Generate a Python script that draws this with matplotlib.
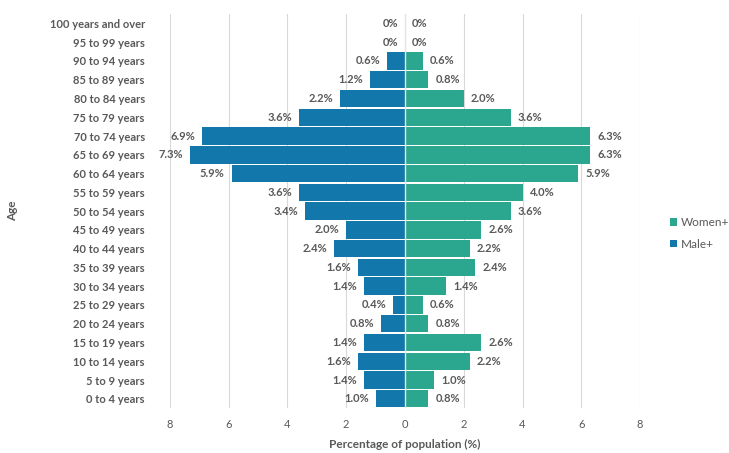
import matplotlib
matplotlib.use("Agg")
import matplotlib.pyplot as plt
from matplotlib.ticker import FuncFormatter, FixedLocator

plt.rcParams['font.family'] = ['Lato', 'DejaVu Sans']

age_groups = ["0 to 4 years", "5 to 9 years", "10 to 14 years", "15 to 19 years",
              "20 to 24 years", "25 to 29 years", "30 to 34 years", "35 to 39 years",
              "40 to 44 years", "45 to 49 years", "50 to 54 years", "55 to 59 years",
              "60 to 64 years", "65 to 69 years", "70 to 74 years", "75 to 79 years",
              "80 to 84 years", "85 to 89 years", "90 to 94 years", "95 to 99 years",
              "100 years and over"]
male = [1.0, 1.4, 1.6, 1.4, 0.8, 0.4, 1.4, 1.6, 2.4, 2.0, 3.4, 3.6,
        5.9, 7.3, 6.9, 3.6, 2.2, 1.2, 0.6, 0.0, 0.0]
women = [0.8, 1.0, 2.2, 2.6, 0.8, 0.6, 1.4, 2.4, 2.2, 2.6, 3.6, 4.0,
         5.9, 6.3, 6.3, 3.6, 2.0, 0.8, 0.6, 0.0, 0.0]
x_ticks = [-8, -6, -4, -2, 0, 2, 4, 6, 8]

male_color = "#1277AA"
women_color = "#2CA78F"
text_color = "#595959"

fig = plt.figure(figsize=(7.29, 4.53), dpi=100)
ax = fig.add_axes([0.233, 0.099, 0.645, 0.870])

y = list(range(len(age_groups)))
bw = ax.barh(y, women, height=0.93, color=women_color, label="Women+", zorder=2)
bm = ax.barh(y, [-v for v in male], height=0.93, color=male_color, label="Male+", zorder=2)

for yi, v in zip(y, male):
    ax.annotate(f"{v:.1f}%" if v > 0 else "0%", xy=(-v, yi), xytext=(-5, 0),
                textcoords="offset points", ha="right", va="center",
                fontsize=8, fontweight="bold", color=text_color)
for yi, v in zip(y, women):
    ax.annotate(f"{v:.1f}%" if v > 0 else "0%", xy=(v, yi), xytext=(5, 0),
                textcoords="offset points", ha="left", va="center",
                fontsize=8, fontweight="bold", color=text_color)

ax.set_xlim(-8, 8)
ax.set_ylim(-0.5, len(age_groups) - 0.5)
ax.xaxis.set_major_locator(FixedLocator(x_ticks))
ax.xaxis.set_major_formatter(FuncFormatter(lambda v, p: f"{abs(v):g}"))
ax.set_yticks(y)
ax.set_yticklabels(age_groups)
ax.grid(axis="x", color="#D9D9D9", linewidth=0.8, zorder=0)
ax.axvline(0, color="#E6E6E6", linewidth=1.0, zorder=3)
for s in ax.spines.values():
    s.set_visible(False)
ax.tick_params(axis="y", length=0, pad=18, labelsize=8, labelcolor=text_color)
ax.tick_params(axis="x", length=0, pad=8, labelsize=8, labelcolor=text_color)
for lab in ax.get_yticklabels():
    lab.set_fontweight("bold")
ax.set_xlabel("Percentage of population (%)", fontsize=8.5, fontweight="bold",
              color=text_color, labelpad=6)
ax.set_ylabel("Age", fontsize=8.5, fontweight="bold", color=text_color)
ax.yaxis.set_label_coords(-0.323, 0.5)

fig.legend(handles=[bw, bm], labels=["Women+", "Male+"], loc="center left",
           bbox_to_anchor=(0.905, 0.485), frameon=False, fontsize=8.5,
           handlelength=0.6, handleheight=0.6, handletextpad=0.3,
           labelcolor=text_color, labelspacing=0.9)

fig.savefig("out.png", dpi=100)
